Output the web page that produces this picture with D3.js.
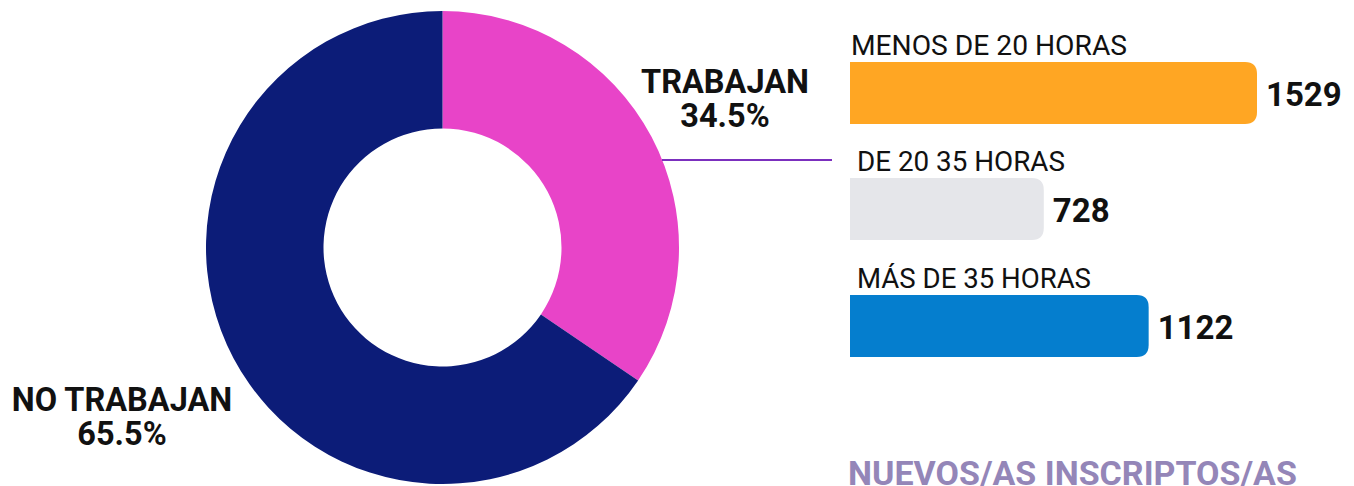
<!DOCTYPE html>
<html>
<head>
<meta charset="utf-8">
<script src="https://cdn.jsdelivr.net/npm/d3@7"></script>
<style>
  body { margin: 0; background: #fff; }
  svg { display: block; font-family: Roboto, sans-serif; }
</style>
</head>
<body>
<div id="chart"></div>
<script>
// donut data
const workNames   = ["TRABAJAN", "NO TRABAJAN"];
const workShares  = [34.5, 65.5];
const workColors  = ["#E844C8", "#0C1C78"];

// bar data
const hourNames   = ["MENOS DE 20 HORAS", "DE 20 35 HORAS", "MÁS DE 35 HORAS"];
const hourValues  = [1529, 728, 1122];
const hourColors  = ["#FFA623", "#E5E6EA", "#057ECE"];

const title = "NUEVOS/AS INSCRIPTOS/AS";

const width = 1354, height = 486;

const svg = d3.select("#chart").append("svg")
  .attr("width", width)
  .attr("height", height);

// ---- donut
const cx = 442.5, cy = 247.5, outerR = 236.5, innerR = 119;

const pie = d3.pie().sort(null).value(d => d);
const arc = d3.arc().innerRadius(innerR).outerRadius(outerR);

const donut = svg.append("g").attr("transform", `translate(${cx},${cy})`);
donut.selectAll("path")
  .data(pie(workShares))
  .enter().append("path")
    .attr("d", arc)
    .attr("fill", (d, i) => workColors[i]);

// labels of the donut (name + share, two separate lines)
const donutLabels = [
  { x: 725, y: 93 },
  { x: 122, y: 411 }
];
donutLabels.forEach((p, i) => {
  [workNames[i], workShares[i].toFixed(1) + "%"].forEach((s, k) => {
    svg.append("text")
      .attr("x", p.x).attr("y", p.y + k * 34)
      .attr("text-anchor", "middle")
      .attr("font-size", 32.5)
      .attr("font-weight", 700)
      .attr("fill", "#111")
      .text(s);
  });
});

// connector
svg.append("line")
  .attr("x1", 662).attr("x2", 832)
  .attr("y1", 160).attr("y2", 160)
  .attr("stroke", "#7B2FBE")
  .attr("stroke-width", 2);

// ---- bars
const x = d3.scaleLinear().domain([0, 1529]).range([850, 1257]);
const barTop = [62, 178, 295];
const barH = 62, rad = 12;
const labelX = [851, 857, 857];
const labelLen = [276, 208, 234];

function barPath(x0, x1, y0, h, r) {
  return `M${x0},${y0}H${x1 - r}Q${x1},${y0} ${x1},${y0 + r}` +
         `V${y0 + h - r}Q${x1},${y0 + h} ${x1 - r},${y0 + h}H${x0}Z`;
}

const bars = svg.append("g");
hourValues.forEach((v, i) => {
  bars.append("path")
    .attr("d", barPath(x(0), x(v), barTop[i], barH, rad))
    .attr("fill", hourColors[i]);

  bars.append("text")
    .attr("x", labelX[i])
    .attr("y", barTop[i] - 7)
    .attr("font-size", 28)
    .attr("font-weight", 400)
    .attr("textLength", labelLen[i])
    .attr("lengthAdjust", "spacingAndGlyphs")
    .attr("fill", "#111")
    .text(hourNames[i]);

  bars.append("text")
    .attr("x", x(v) + 9)
    .attr("y", barTop[i] + barH / 2 + 13)
    .attr("font-size", 33)
    .attr("font-weight", 700)
    .attr("fill", "#111")
    .text(v);
});

// bottom title
svg.append("text")
  .attr("x", 848)
  .attr("y", 485)
  .attr("font-size", 34)
  .attr("font-weight", 700)
  .attr("fill", "#9486B8")
  .text(title);
</script>
</body>
</html>
